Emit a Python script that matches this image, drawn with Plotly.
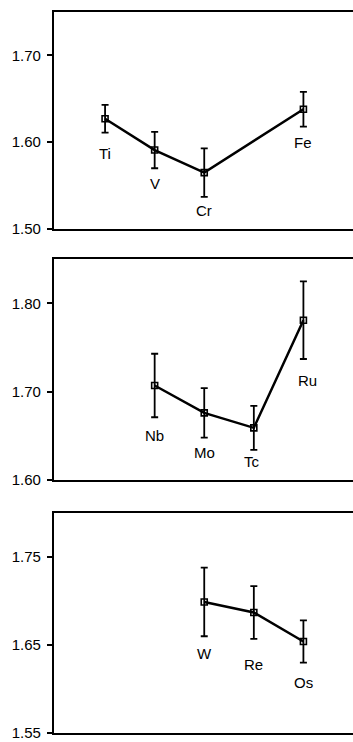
import plotly.graph_objects as go

# ---- data ----
p1_elements = ["Ti", "V", "Cr", "Fe"]
p1_group = [4, 5, 6, 8]
p1_value = [1.627, 1.591, 1.565, 1.638]
p1_error = [0.016, 0.021, 0.028, 0.020]

p2_elements = ["Nb", "Mo", "Tc", "Ru"]
p2_group = [5, 6, 7, 8]
p2_value = [1.707, 1.676, 1.659, 1.781]
p2_error = [0.036, 0.028, 0.025, 0.044]

p3_elements = ["W", "Re", "Os"]
p3_group = [6, 7, 8]
p3_value = [1.699, 1.687, 1.654]
p3_error = [0.039, 0.030, 0.024]

p1_ticks = [1.50, 1.60, 1.70]
p2_ticks = [1.60, 1.70, 1.80]
p3_ticks = [1.55, 1.65, 1.75]

# ---- layout/style (label offsets in pixels below each point) ----
p1_label_dy = [35, 33, 38, 33]
p2_label_dy = [50, 40, 34, 60]
p3_label_dy = [52, 52, 41]
p2_label_dx = [0, 0, -2, 4]

FONT = "Liberation Sans, Arial, Helvetica, sans-serif"

panels = [
    dict(el=p1_elements, x=p1_group, y=p1_value, e=p1_error, ticks=p1_ticks,
         rng=[1.50, 1.75], dom=[0.699, 1.0], dy=p1_label_dy, dx=[0] * 4),
    dict(el=p2_elements, x=p2_group, y=p2_value, e=p2_error, ticks=p2_ticks,
         rng=[1.60, 1.85], dom=[0.351, 0.657], dy=p2_label_dy, dx=p2_label_dx),
    dict(el=p3_elements, x=p3_group, y=p3_value, e=p3_error, ticks=p3_ticks,
         rng=[1.55, 1.80], dom=[0.0, 0.305], dy=p3_label_dy, dx=[0] * 3),
]

fig = go.Figure()
annotations = []
layout = dict(
    width=353, height=742,
    margin=dict(l=54, r=0, t=12, b=9),
    paper_bgcolor="white", plot_bgcolor="white",
    showlegend=False,
    font=dict(family=FONT, size=15, color="black"),
)

for i, p in enumerate(panels, start=1):
    xa = "x" if i == 1 else f"x{i}"
    ya = "y" if i == 1 else f"y{i}"
    fig.add_trace(go.Scatter(
        x=p["x"], y=p["y"], xaxis=xa, yaxis=ya,
        mode="lines+markers",
        line=dict(color="black", width=2.5),
        marker=dict(symbol="square-open", size=6, color="black",
                    line=dict(width=1.6, color="black")),
        error_y=dict(type="data", array=p["e"], visible=True,
                     color="black", thickness=1.8, width=3.5),
        hoverinfo="skip",
    ))
    for xv, yv, name, dy, dx in zip(p["x"], p["y"], p["el"], p["dy"], p["dx"]):
        annotations.append(dict(
            x=xv, y=yv, xref=xa, yref=ya, text=name, showarrow=False,
            yshift=-dy, xshift=dx, xanchor="center", yanchor="middle",
            font=dict(family=FONT, size=15, color="black"),
        ))
    xkey = "xaxis" if i == 1 else f"xaxis{i}"
    ykey = "yaxis" if i == 1 else f"yaxis{i}"
    layout[xkey] = dict(
        domain=[0, 1], range=[2.97, 9.0], anchor=ya,
        showgrid=False, zeroline=False, showticklabels=False, ticks="",
        showline=True, linecolor="black", linewidth=2.2, mirror=True,
    )
    layout[ykey] = dict(
        domain=p["dom"], range=p["rng"], anchor=xa,
        tickmode="array", tickvals=p["ticks"], tickformat=".2f",
        ticks="outside", ticklen=5, tickwidth=2, tickcolor="black",
        ticklabelstandoff=3,
        showgrid=False, zeroline=False,
        showline=True, linecolor="black", linewidth=2.2, mirror=False,
        tickfont=dict(family=FONT, size=15, color="black"),
    )

layout["annotations"] = annotations
fig.update_layout(**layout)
fig.write_html("out.html")
